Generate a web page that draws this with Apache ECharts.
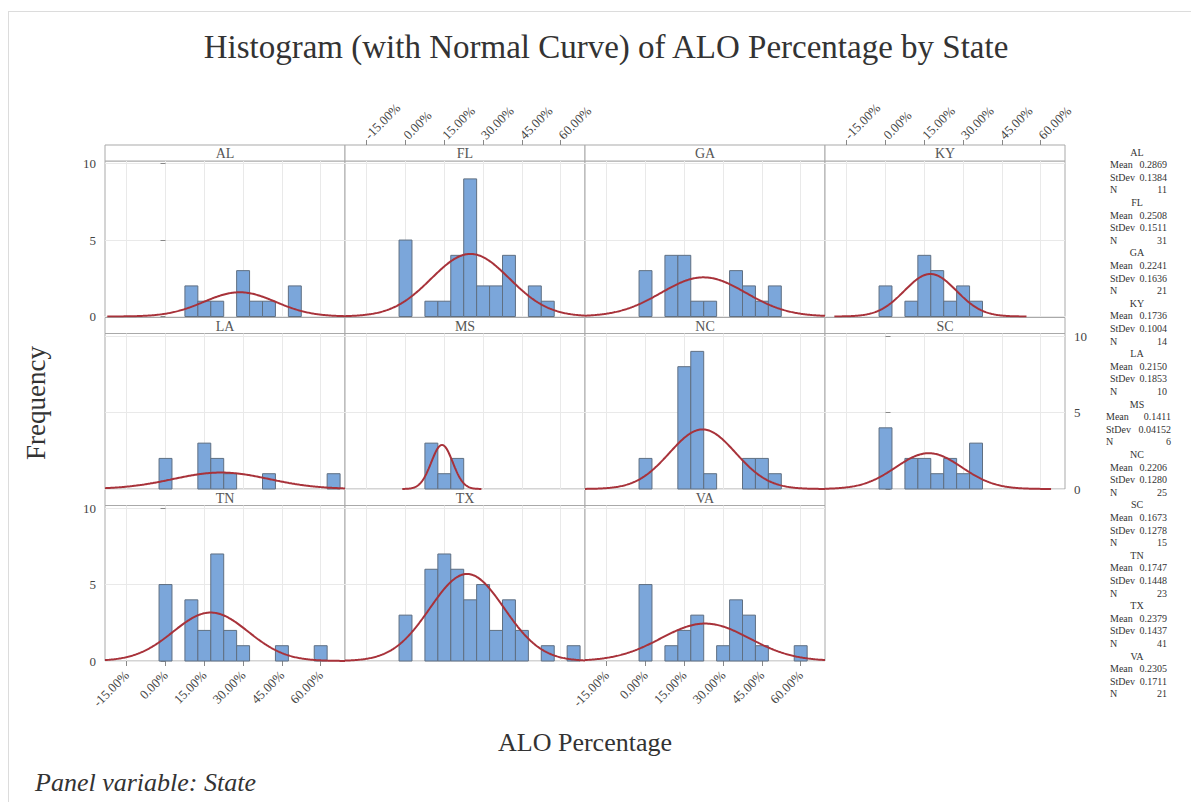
<!DOCTYPE html>
<html><head><meta charset="utf-8">
<script src="https://cdn.jsdelivr.net/npm/echarts@6/dist/echarts.min.js"></script>
<style>html,body{margin:0;padding:0;background:#fff}#c{width:1191px;height:802px}</style>
</head><body><div id="c"></div>
<script>
// ---- data ----
const states = ['AL','FL','GA','KY','LA','MS','NC','SC','TN','TX','VA'];
const meanText = ['0.2869','0.2508','0.2241','0.1736','0.2150','0.1411','0.2206','0.1673','0.1747','0.2379','0.2305'];
const sdText = ['0.1384','0.1511','0.1636','0.1004','0.1853','0.04152','0.1280','0.1278','0.1448','0.1437','0.1711'];
const nText = ['11','31','21','14','10','6','25','15','23','41','21'];
// [bin centre, count]
const histAL = [[0.10,2],[0.15,1],[0.20,1],[0.30,3],[0.35,1],[0.40,1],[0.50,2]];
const histFL = [[0.00,5],[0.10,1],[0.15,1],[0.20,4],[0.25,9],[0.30,2],[0.35,2],[0.40,4],[0.50,2],[0.55,1]];
const histGA = [[0.00,3],[0.10,4],[0.15,4],[0.20,1],[0.25,1],[0.35,3],[0.40,2],[0.45,1],[0.50,2]];
const histKY = [[0.00,2],[0.10,1],[0.15,4],[0.20,3],[0.25,1],[0.30,2],[0.35,1]];
const histLA = [[0.00,2],[0.15,3],[0.20,2],[0.25,1],[0.40,1],[0.65,1]];
const histMS = [[0.10,3],[0.15,1],[0.20,2]];
const histNC = [[0.00,2],[0.15,8],[0.20,9],[0.25,1],[0.40,2],[0.45,2],[0.50,1]];
const histSC = [[0.00,4],[0.10,2],[0.15,2],[0.20,1],[0.25,2],[0.30,1],[0.35,3]];
const histTN = [[0.00,5],[0.10,4],[0.15,2],[0.20,7],[0.25,2],[0.30,1],[0.45,1],[0.60,1]];
const histTX = [[0.00,3],[0.10,6],[0.15,7],[0.20,6],[0.25,4],[0.30,5],[0.35,2],[0.40,4],[0.45,2],[0.55,1],[0.65,1]];
const histVA = [[0.00,5],[0.10,1],[0.15,2],[0.20,3],[0.30,1],[0.35,4],[0.40,3],[0.45,1],[0.60,1]];
const binWidth = 0.05;
const xTicks = [-0.15, 0, 0.15, 0.30, 0.45, 0.60];
const yTicks = [0, 5, 10];

// ---- layout ----
const hists = [histAL,histFL,histGA,histKY,histLA,histMS,histNC,histSC,histTN,histTX,histVA];
const colLeft = [105, 345, 585, 825];
const rowTop = [161, 333.5, 505.5];
const plotW = 240, plotH = 155.5, stripH = 16;
const xMin = -0.234, xMax = 0.694, yMax = 10.17;
const FONT = '"Liberation Serif","Times New Roman",serif';
const pct = v => (v * 100).toFixed(2) + '%';
const BORDER = '#a9a9a9', GRIDC = '#e9e9e9', TXT = '#444';

const grids = [], xAxes = [], yAxes = [], series = [], graphics = [];

function renderBar(params, api) {
  const x = api.value(0), y = api.value(1);
  const p0 = api.coord([x - binWidth / 2, y]);
  const p1 = api.coord([x + binWidth / 2, 0]);
  return {
    type: 'rect',
    shape: { x: p0[0], y: p0[1], width: p1[0] - p0[0], height: p1[1] - p0[1] },
    style: { fill: '#7ba6da', stroke: '#5f6f82', lineWidth: 1 }
  };
}

states.forEach((st, i) => {
  const r = Math.floor(i / 4), c = i % 4;
  const left = colLeft[c], top = rowTop[r];
  grids.push({ left, top, width: plotW, height: plotH, show: true, borderColor: BORDER, borderWidth: 1, backgroundColor: '#fff' });
  const bottomLab = (st === 'TN' || st === 'VA');
  const topLab = (st === 'FL' || st === 'KY');
  const leftLab = (st === 'AL' || st === 'TN');
  const rightLab = (st === 'SC');
  const xi = xAxes.length;
  xAxes.push({
    type: 'value', gridIndex: i, min: xMin, max: xMax, position: 'bottom',
    axisLine: { show: false },
    axisTick: { show: bottomLab, customValues: xTicks, length: 5, lineStyle: { color: '#888' } },
    axisLabel: { show: bottomLab, customValues: xTicks, rotate: 45, margin: 12, formatter: pct,
      fontFamily: FONT, fontSize: 13, color: TXT },
    splitLine: { show: true, lineStyle: { color: GRIDC, width: 1 } }
  });
  if (topLab) {
    xAxes.push({
      type: 'value', gridIndex: i, min: xMin, max: xMax, position: 'top', offset: stripH,
      axisLine: { show: false },
      axisTick: { show: true, customValues: xTicks, length: 5, lineStyle: { color: '#888' } },
      axisLabel: { show: true, customValues: xTicks, rotate: -45, margin: 8, formatter: pct,
        fontFamily: FONT, fontSize: 13, color: TXT },
      splitLine: { show: false }
    });
  }
  const yi = yAxes.length;
  yAxes.push({
    type: 'value', gridIndex: i, min: 0, max: yMax, position: rightLab ? 'right' : 'left',
    axisLine: { show: false },
    axisTick: { show: leftLab || rightLab, customValues: yTicks, length: 5, lineStyle: { color: '#888' } },
    axisLabel: { show: leftLab || rightLab, customValues: yTicks, margin: 9,
      fontFamily: FONT, fontSize: 13, color: TXT },
    splitLine: { show: true, lineStyle: { color: GRIDC, width: 1 } }
  });
  series.push({ type: 'custom', xAxisIndex: xi, yAxisIndex: yi, data: hists[i], renderItem: renderBar,
    encode: { x: 0, y: 1 }, z: 2, silent: true });
  // fitted normal curve from the panel's mean / stdev / N
  const m = parseFloat(meanText[i]), s = parseFloat(sdText[i]), n = parseFloat(nText[i]);
  const lo = Math.max(xMin, m - 3.7 * s), hi = Math.min(xMax, m + 3.7 * s);
  const pts = [];
  for (let k = 0; k <= 240; k++) {
    const x = lo + (hi - lo) * k / 240;
    pts.push([x, n * binWidth * Math.exp(-0.5 * ((x - m) / s) ** 2) / (s * Math.sqrt(2 * Math.PI))]);
  }
  series.push({ type: 'line', xAxisIndex: xi, yAxisIndex: yi, data: pts, showSymbol: false, symbol: 'none',
    lineStyle: { color: '#a8323a', width: 2 }, z: 3, silent: true });
  // strip
  graphics.push({ type: 'rect', shape: { x: left, y: top - stripH, width: plotW, height: stripH },
    style: { fill: '#fff', stroke: BORDER, lineWidth: 1 } });
  graphics.push({ type: 'text', x: left + plotW / 2, y: top - stripH / 2 + 0.5,
    style: { text: st, fontSize: 14, fontFamily: FONT, fill: '#555', align: 'center', verticalAlign: 'middle' } });
});

// stats table on the right
states.forEach((st, i) => {
  const y0 = 152 + 50.4 * i;
  const wide = sdText[i].length > 6;
  const lx = wide ? 1106 : 1110, rx = wide ? 1171 : 1167;
  const tstyle = (t, al) => ({ text: t, fontSize: 10, fontFamily: FONT, fill: '#333', align: al, verticalAlign: 'middle' });
  graphics.push({ type: 'text', x: 1137, y: y0, style: tstyle(st, 'center') });
  const labs = ['Mean', 'StDev', 'N'];
  const vals = [meanText[i], sdText[i], nText[i]];
  labs.forEach((l, k) => {
    graphics.push({ type: 'text', x: lx, y: y0 + 12.6 * (k + 1), style: tstyle(l, 'left') });
    graphics.push({ type: 'text', x: rx, y: y0 + 12.6 * (k + 1), style: tstyle(vals[k], 'right') });
  });
});

// titles
graphics.push({ type: 'text', x: 606, y: 47, style: { text: 'Histogram (with Normal Curve) of ALO Percentage by State',
  fontSize: 33, fontFamily: FONT, fill: '#333', align: 'center', verticalAlign: 'middle' } });
graphics.push({ type: 'text', x: 36, y: 403, rotation: Math.PI / 2, style: { text: 'Frequency',
  fontSize: 27, fontFamily: FONT, fill: '#333', align: 'center', verticalAlign: 'middle' } });
graphics.push({ type: 'text', x: 585, y: 742, style: { text: 'ALO Percentage',
  fontSize: 26, fontFamily: FONT, fill: '#333', align: 'center', verticalAlign: 'middle' } });
graphics.push({ type: 'text', x: 35, y: 782, style: { text: 'Panel variable: State',
  fontSize: 26, fontStyle: 'italic', fontFamily: FONT, fill: '#333', align: 'left', verticalAlign: 'middle' } });
// outer frame lines
graphics.push({ type: 'line', shape: { x1: 8, y1: 11.5, x2: 1191, y2: 11.5 }, style: { stroke: '#dcdcdc', lineWidth: 1 } });
graphics.push({ type: 'line', shape: { x1: 8.5, y1: 11, x2: 8.5, y2: 802 }, style: { stroke: '#dcdcdc', lineWidth: 1 } });

const chart = echarts.init(document.getElementById('c'), null, { renderer: 'svg', width: 1191, height: 802 });
chart.setOption({
  animation: false,
  backgroundColor: '#fff',
  grid: grids,
  xAxis: xAxes,
  yAxis: yAxes,
  series: series,
  graphic: { elements: graphics }
});
</script>
</body></html>
